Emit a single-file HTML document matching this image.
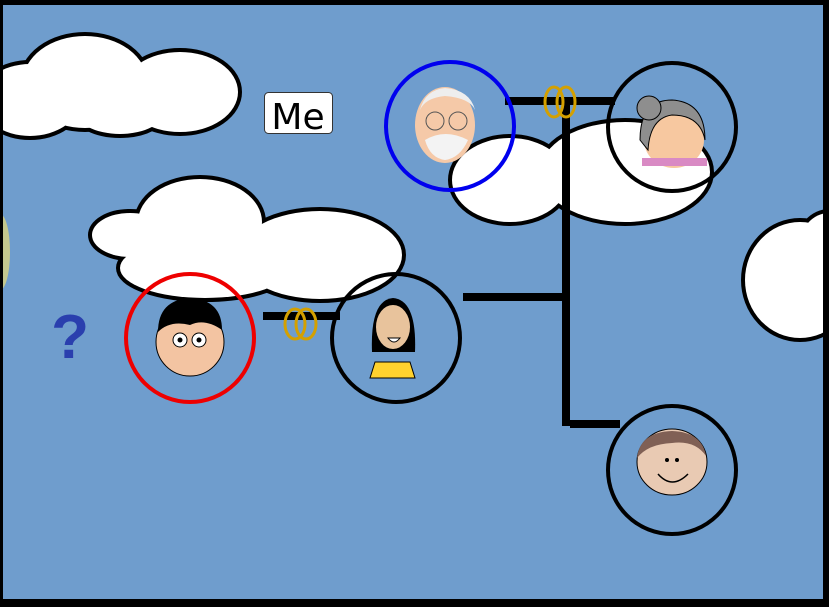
<!DOCTYPE html>
<html><head><style>
html,body{margin:0;padding:0;width:829px;height:607px;overflow:hidden;background:#000}
svg{display:block}
</style></head><body>
<svg width="829" height="607" viewBox="0 0 829 607" xmlns="http://www.w3.org/2000/svg">
<rect x="0" y="0" width="829" height="607" fill="#000"/>
<rect x="3" y="5" width="820" height="594" fill="#6f9dcd"/>
<ellipse cx="0" cy="252" rx="10" ry="38" fill="#c4c88e"/>
<!-- clouds: outlines -->
<g fill="none" stroke="#000" stroke-width="8">
<ellipse cx="85" cy="82" rx="62" ry="46"/><ellipse cx="180" cy="92" rx="58" ry="40"/><ellipse cx="30" cy="100" rx="50" ry="36"/><ellipse cx="120" cy="110" rx="45" ry="24"/>
<ellipse cx="130" cy="235" rx="38" ry="22"/><ellipse cx="200" cy="222" rx="62" ry="43"/><ellipse cx="320" cy="255" rx="82" ry="44"/><ellipse cx="205" cy="268" rx="85" ry="30"/>
<ellipse cx="510" cy="180" rx="58" ry="42"/><ellipse cx="625" cy="172" rx="85" ry="50"/>
<ellipse cx="800" cy="280" rx="55" ry="58"/><ellipse cx="829" cy="248" rx="30" ry="35"/>
</g>
<g fill="#fff">
<ellipse cx="85" cy="82" rx="62" ry="46"/><ellipse cx="180" cy="92" rx="58" ry="40"/><ellipse cx="30" cy="100" rx="50" ry="36"/><ellipse cx="120" cy="110" rx="45" ry="24"/>
<ellipse cx="130" cy="235" rx="38" ry="22"/><ellipse cx="200" cy="222" rx="62" ry="43"/><ellipse cx="320" cy="255" rx="82" ry="44"/><ellipse cx="205" cy="268" rx="85" ry="30"/>
<ellipse cx="510" cy="180" rx="58" ry="42"/><ellipse cx="625" cy="172" rx="85" ry="50"/>
<ellipse cx="800" cy="280" rx="55" ry="58"/><ellipse cx="829" cy="248" rx="30" ry="35"/>
</g>
<rect x="0" y="0" width="829" height="5" fill="#000"/><rect x="0" y="0" width="3" height="607" fill="#000"/>
<!-- lines -->
<g fill="#000">
<rect x="505" y="97" width="110" height="8"/>
<rect x="562" y="101" width="8" height="325"/>
<rect x="463" y="293" width="105" height="8"/>
<rect x="570" y="420" width="50" height="8"/>
<rect x="263" y="312" width="77" height="8"/>
</g>
<!-- rings -->
<g fill="none" stroke="#d4a000" stroke-width="3">
<ellipse cx="554" cy="102" rx="9" ry="15"/><ellipse cx="566" cy="102" rx="9" ry="15"/>
<ellipse cx="295" cy="324" rx="10" ry="15"/><ellipse cx="306" cy="324" rx="10" ry="15"/>
</g>
<!-- Me label -->
<rect x="264.5" y="92.5" width="68" height="41" rx="4" fill="#fff" stroke="#333" stroke-width="1"/>
<text x="298" y="129" font-family="DejaVu Sans, Liberation Sans, sans-serif" font-size="36" text-anchor="middle" fill="#000">Me</text>
<text x="70" y="358" font-family="Liberation Sans, sans-serif" font-weight="bold" font-size="62" text-anchor="middle" fill="#2a3fae">?</text>
<!-- faces -->
<!-- grandpa -->
<ellipse cx="445" cy="125" rx="30" ry="38" fill="#f5c9a8"/>
<path d="M420 110 Q425 90 445 88 Q470 90 475 110 Q470 98 445 96 Q425 98 420 110Z" fill="#eee"/>
<path d="M425 140 Q445 128 468 140 Q460 158 445 160 Q430 158 425 140Z" fill="#f3f3f3"/>
<circle cx="435" cy="121" r="9" fill="none" stroke="#555"/><circle cx="458" cy="121" r="9" fill="none" stroke="#555"/>
<!-- grandma -->
<ellipse cx="674" cy="140" rx="30" ry="28" fill="#f7c8a0"/>
<path d="M640 140 Q640 100 672 100 Q705 102 705 140 Q700 115 672 115 Q650 118 648 150Z" fill="#8e8e8e" stroke="#000"/>
<circle cx="649" cy="108" r="12" fill="#8e8e8e" stroke="#000"/>
<rect x="642" y="158" width="65" height="8" fill="#d98ac4"/>
<!-- me -->
<ellipse cx="190" cy="342" rx="34" ry="34" fill="#f3c4a2" stroke="#000"/>
<path d="M158 332 Q158 300 190 298 Q222 300 222 330 Q205 318 190 325 Q170 320 158 332Z" fill="#000"/>
<circle cx="180" cy="340" r="7" fill="#fff" stroke="#000"/><circle cx="199" cy="340" r="7" fill="#fff" stroke="#000"/>
<circle cx="180" cy="340" r="2.5"/><circle cx="199" cy="340" r="2.5"/>
<!-- wife -->
<path d="M372 352 Q370 300 393 298 Q417 300 415 352Z" fill="#000"/>
<ellipse cx="393" cy="327" rx="17" ry="22" fill="#e8c39c"/>
<path d="M370 378 L375 362 L410 362 L415 378Z" fill="#ffd22e" stroke="#000"/>
<path d="M388 338 Q394 346 400 338Z" fill="#fff" stroke="#000"/>
<!-- son -->
<ellipse cx="672" cy="462" rx="35" ry="33" fill="#e9cab3" stroke="#000"/>
<path d="M637 458 Q640 432 672 431 Q702 432 706 456 Q695 440 672 443 Q648 444 637 458Z" fill="#806055"/>
<path d="M658 474 Q672 490 688 474" fill="none" stroke="#000" stroke-width="1.5"/>
<circle cx="667" cy="460" r="2"/><circle cx="677" cy="460" r="2"/>
<!-- circles -->
<circle cx="450" cy="126" r="64" fill="none" stroke="#0000ee" stroke-width="4"/>
<circle cx="672" cy="127" r="64" fill="none" stroke="#000" stroke-width="4"/>
<circle cx="190" cy="338" r="64" fill="none" stroke="#ee0000" stroke-width="4"/>
<circle cx="396" cy="338" r="64" fill="none" stroke="#000" stroke-width="4"/>
<circle cx="672" cy="470" r="64" fill="none" stroke="#000" stroke-width="4"/>
<rect x="823" y="0" width="6" height="607" fill="#000"/><rect x="0" y="599" width="829" height="8" fill="#000"/>
</svg>
</body></html>
